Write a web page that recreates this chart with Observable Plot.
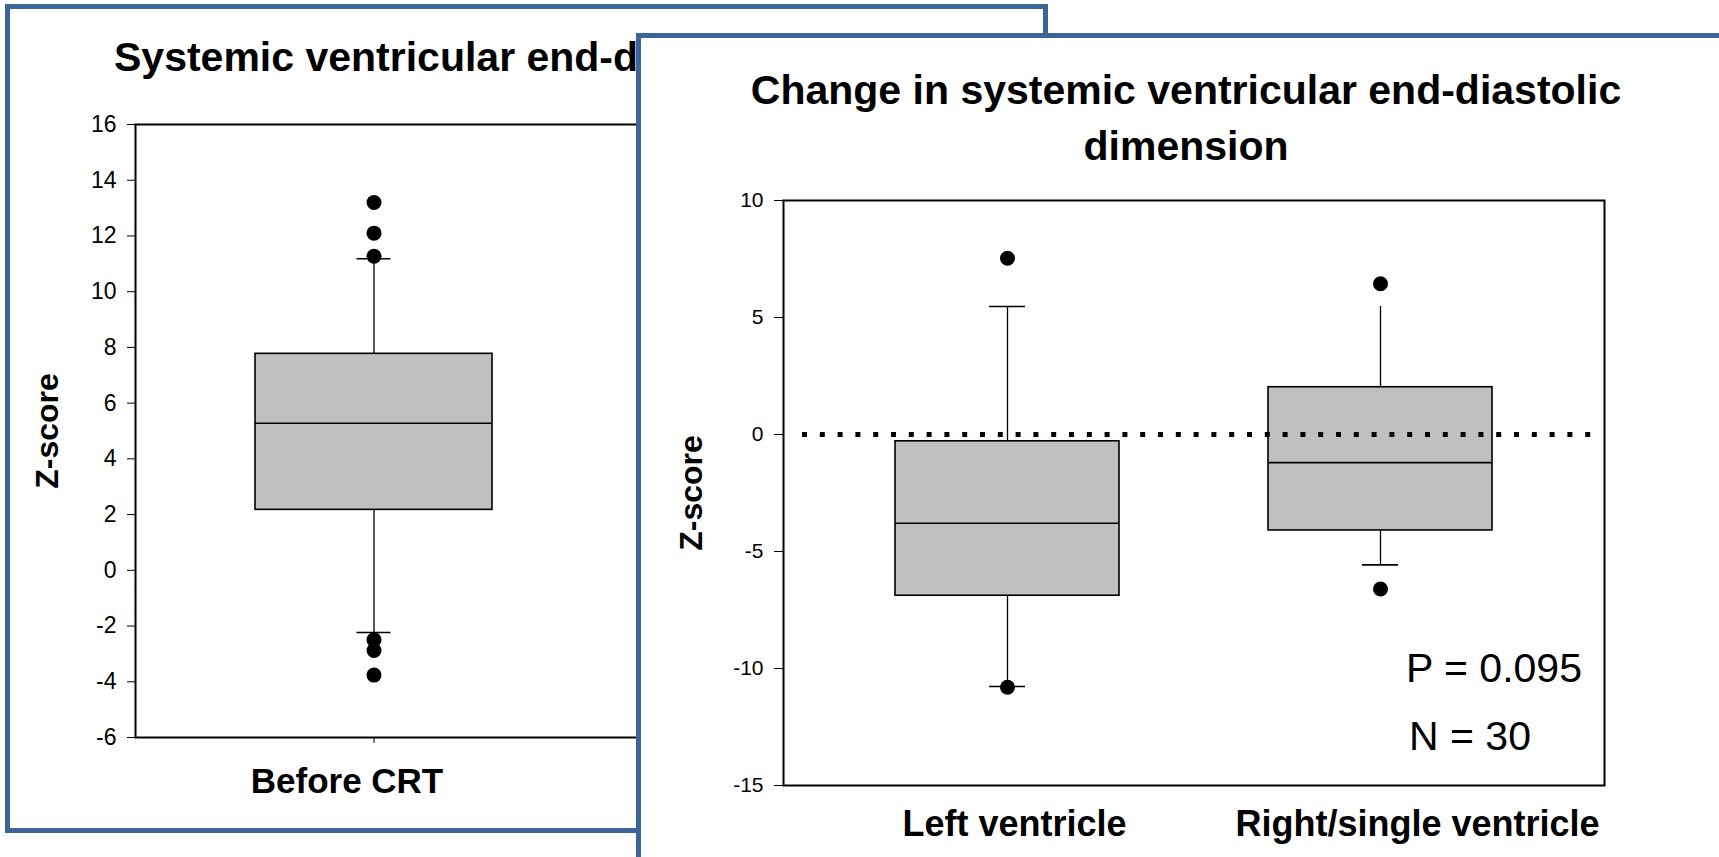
<!DOCTYPE html>
<html>
<head>
<meta charset="utf-8">
<script src="https://cdn.jsdelivr.net/npm/d3@7"></script>
<script src="https://cdn.jsdelivr.net/npm/@observablehq/plot@0.6"></script>
<style>
  html, body { margin: 0; padding: 0; background: #fff; }
  #stage { position: relative; width: 1719px; height: 857px; overflow: hidden; background: #fff;
           font-family: "Liberation Sans", Arial, sans-serif; color: #000; }
  .panel { position: absolute; border: 5px solid #3d6597; background: #fff; box-sizing: border-box; }
  .abs { position: absolute; }
  .chart { position: absolute; left: 0; top: 0; width: 1719px; height: 857px; }
  .chart svg { position: absolute; left: 0; top: 0; max-width: none !important; }
</style>
</head>
<body>
<div id="stage">
  <div class="panel" style="left:5px;top:4px;width:1043px;height:829px;"></div>
  <div id="leftChart" class="chart"></div>
  <div class="abs" style="left:114px;top:29px;font-size:41px;font-weight:bold;line-height:56px;white-space:nowrap;">Systemic ventricular end-diastolic dimension</div>

  <div class="panel" style="left:636px;top:33px;width:1200px;height:900px;"></div>
  <div id="rightChart" class="chart"></div>
  <div class="abs" style="left:736px;top:62px;width:900px;text-align:center;font-size:41px;font-weight:bold;line-height:56px;">Change in systemic ventricular end-diastolic<br>dimension</div>
  <div class="abs" style="left:1406px;top:640px;font-size:41px;line-height:56px;white-space:nowrap;">P = 0.095</div>
  <div class="abs" style="left:1409px;top:708px;font-size:41px;line-height:56px;white-space:nowrap;">N = 30</div>
</div>
<script>
// ---------- Data: left chart (before CRT) ----------
const leftCategories = ["Before CRT"];
const leftQ1 = [2.17];
const leftMedian = [5.28];
const leftQ3 = [7.77];
const leftWhiskerLow = [-2.23];
const leftWhiskerHigh = [11.18];
const leftCapLow = [-2.23];
const leftCapHigh = [11.18];
const leftOutlierCategories = ["Before CRT", "Before CRT", "Before CRT", "Before CRT", "Before CRT", "Before CRT"];
const leftOutlierValues = [13.2, 12.1, 11.27, -2.49, -2.88, -3.76];
const leftYTicks = [-6, -4, -2, 0, 2, 4, 6, 8, 10, 12, 14, 16];

// ---------- Data: right chart (change) ----------
const rightCategories = ["Left ventricle", "Right/single ventricle"];
const rightQ1 = [-6.89, -4.1];
const rightMedian = [-3.79, -1.2];
const rightQ3 = [-0.29, 2.02];
const rightWhiskerLow = [-10.77, -5.57];
const rightWhiskerHigh = [5.47, 5.47];
const rightCapLow = [-10.77, -5.57];
const rightCapHigh = [5.47, null];
const rightOutlierCategories = ["Left ventricle", "Left ventricle", "Right/single ventricle", "Right/single ventricle"];
const rightOutlierValues = [7.53, -10.8, 6.44, -6.6];
const rightYTicks = [-15, -10, -5, 0, 5, 10];
const referenceLine = [0];

const FONT = '"Liberation Sans", Arial, sans-serif';

function boxes(cats, q1, med, q3, lo, hi, capLo, capHi) {
  return cats.map((c, i) => ({cat: c, q1: q1[i], median: med[i], q3: q3[i], low: lo[i], high: hi[i], capLow: capLo[i], capHigh: capHi[i]}));
}
function outliers(cats, vals) { return cats.map((c, i) => ({cat: c, z: vals[i]})); }

const leftBoxes = boxes(leftCategories, leftQ1, leftMedian, leftQ3, leftWhiskerLow, leftWhiskerHigh, leftCapLow, leftCapHigh);
const rightBoxes = boxes(rightCategories, rightQ1, rightMedian, rightQ3, rightWhiskerLow, rightWhiskerHigh, rightCapLow, rightCapHigh);

function boxMarks(data, capInset) {
  return [
    Plot.ruleX(data, {x: "cat", y1: "q3", y2: "high", stroke: "#000", strokeWidth: 1.3}),
    Plot.ruleX(data, {x: "cat", y1: "low", y2: "q1", stroke: "#000", strokeWidth: 1.3}),
    Plot.barY(data, {x: "cat", y1: "q1", y2: "q3", fill: "#c0c0c0", stroke: "#000", strokeWidth: 1.6}),
    Plot.tickY(data, {x: "cat", y: "median", stroke: "#000", strokeWidth: 1.6}),
    Plot.tickY(data.filter(d => d.capHigh != null), {x: "cat", y: "capHigh", stroke: "#000", strokeWidth: 1.6, insetLeft: capInset, insetRight: capInset}),
    Plot.tickY(data.filter(d => d.capLow != null), {x: "cat", y: "capLow", stroke: "#000", strokeWidth: 1.6, insetLeft: capInset, insetRight: capInset})
  ];
}

const svgStyle = {fontFamily: FONT, background: "transparent", color: "#000", overflow: "visible", maxWidth: "none"};

const left = Plot.plot({
  width: 1719, height: 857,
  marginLeft: 135, marginRight: 1019, marginTop: 124, marginBottom: 120,
  style: svgStyle,
  x: {type: "band", domain: leftCategories, paddingInner: 0, paddingOuter: 0.687, align: 0.367},
  y: {domain: [-6, 16]},
  marks: [
    ...boxMarks(leftBoxes, 101.5),
    Plot.dot(outliers(leftOutlierCategories, leftOutlierValues), {x: "cat", y: "z", r: 7.5, fill: "#000"}),
    Plot.frame({stroke: "#000", strokeWidth: 2}),
    Plot.axisY({ticks: leftYTicks, tickFormat: d => String(d), tickSize: 8, tickPadding: 11, fontSize: 23, label: null}),
    Plot.axisX({tickSize: 6, tickFormat: () => "", label: null}),
    Plot.text(leftCategories, {x: d => d, frameAnchor: "bottom", lineAnchor: "top", dy: 31, dx: -27, fontSize: 35, fontWeight: "bold"}),
    Plot.text(["Z-score"], {frameAnchor: "left", textAnchor: "middle", rotate: -90, dx: -88, fontSize: 32, fontWeight: "bold"})
  ]
});
document.getElementById("leftChart").appendChild(left);

const right = Plot.plot({
  width: 1719, height: 857,
  marginLeft: 783, marginRight: 115, marginTop: 200, marginBottom: 72,
  style: svgStyle,
  x: {type: "band", domain: rightCategories, paddingInner: 0.4, paddingOuter: 0.3, axis: null},
  y: {domain: [-15, 10]},
  marks: [
    ...boxMarks(rightBoxes, 94),
    Plot.ruleY(referenceLine, {stroke: "#000", strokeWidth: 5, strokeDasharray: "5,12.8", insetLeft: 19, insetRight: 5}),
    Plot.dot(outliers(rightOutlierCategories, rightOutlierValues), {x: "cat", y: "z", r: 7.5, fill: "#000"}),
    Plot.frame({stroke: "#000", strokeWidth: 2}),
    Plot.axisY({ticks: rightYTicks, tickFormat: d => String(d), tickSize: 9, tickPadding: 11, fontSize: 21, label: null}),
    Plot.text(rightCategories.slice(0, 1), {x: d => d, frameAnchor: "bottom", lineAnchor: "top", dy: 25, dx: 7, fontSize: 36, fontWeight: "bold"}),
    Plot.text(rightCategories.slice(1, 2), {x: d => d, frameAnchor: "bottom", lineAnchor: "top", dy: 25, dx: 37, fontSize: 36, fontWeight: "bold"}),
    Plot.text(["Z-score"], {frameAnchor: "left", textAnchor: "middle", rotate: -90, dx: -92, fontSize: 32, fontWeight: "bold"})
  ]
});
document.getElementById("rightChart").appendChild(right);
</script>
</body>
</html>
